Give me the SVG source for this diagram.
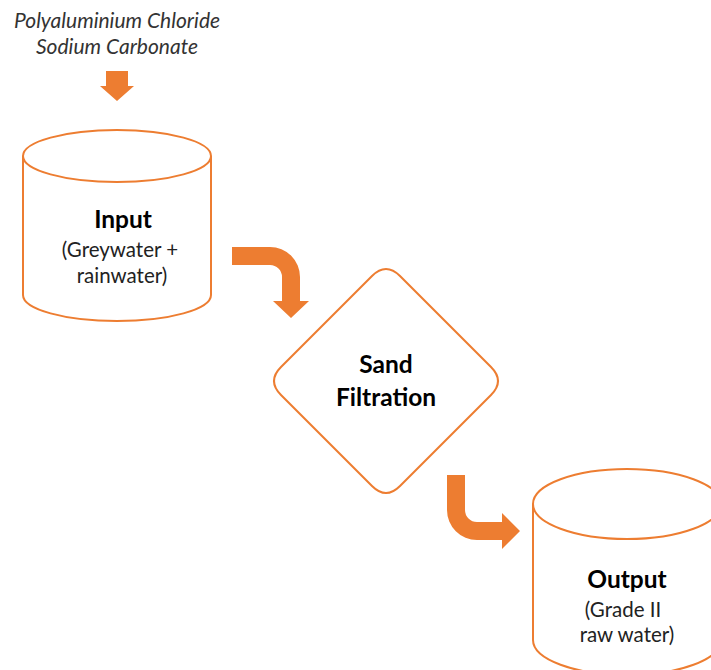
<svg xmlns="http://www.w3.org/2000/svg" width="711" height="670" viewBox="0 0 711 670">
<style>
.shape{fill:#fff;stroke:#ED7D31;stroke-width:2}
.arrow{fill:#ED7D31;stroke:none}
.t{font-family:Lato,"Open Sans","Liberation Sans",sans-serif;text-anchor:middle;fill:#000}
.b{font-weight:bold;font-size:24.5px}
.n{font-size:20.5px;fill:#222}
.i{font-style:italic;font-size:21px;fill:#333}
</style>
<rect width="711" height="670" fill="#fff"/>
<g id="chemicals">
<text class="t i" x="117" y="28">Polyaluminium Chloride</text>
<text class="t i" x="117" y="54">Sodium Carbonate</text>
</g>
<g id="input">
<path class="shape" d="M23,156 L23,295 A94,26 0 0 0 211,295 L211,156"/>
<ellipse class="shape" cx="117" cy="156" rx="94" ry="26"/>
<text class="t b" x="123" y="228">Input</text>
<text class="t n" x="120" y="257">(Greywater +</text>
<text class="t n" x="122" y="283">rainwater)</text>
</g>
<g id="filtration">
<path class="shape" d="M372,276 Q386,262 400,276 L491,367 Q505,381 491,395 L400,486 Q386,500 372,486 L281,395 Q267,381 281,367 Z"/>
<text class="t b" x="386" y="373">Sand</text>
<text class="t b" x="386" y="406">Filtration</text>
</g>
<g id="output">
<path class="shape" d="M533,504 L533,640 A94,35 0 0 0 721,640 L721,504"/>
<ellipse class="shape" cx="627" cy="504" rx="94" ry="35"/>
<text class="t b" x="627" y="588">Output</text>
<text class="t n" x="623" y="617">(Grade II</text>
<text class="t n" x="627" y="642">raw water)</text>
</g>
<g id="connectors">
<path class="arrow" d="M106,71 L128,71 L128,86 L134,86 L117,101 L100,86 L106,86 Z"/>
<path class="arrow" d="M232,247 L270,247 A30,30 0 0 1 300,277 L300,301 L309,301 L291,318 L273,301 L282,301 L282,277 A12,12 0 0 0 270,265 L232,265 Z"/>
<path class="arrow" d="M447,475 L465,475 L465,510 A12,12 0 0 0 477,522 L502,522 L502,513 L520,531 L502,549 L502,540 L477,540 A30,30 0 0 1 447,510 Z"/>
</g>
</svg>
